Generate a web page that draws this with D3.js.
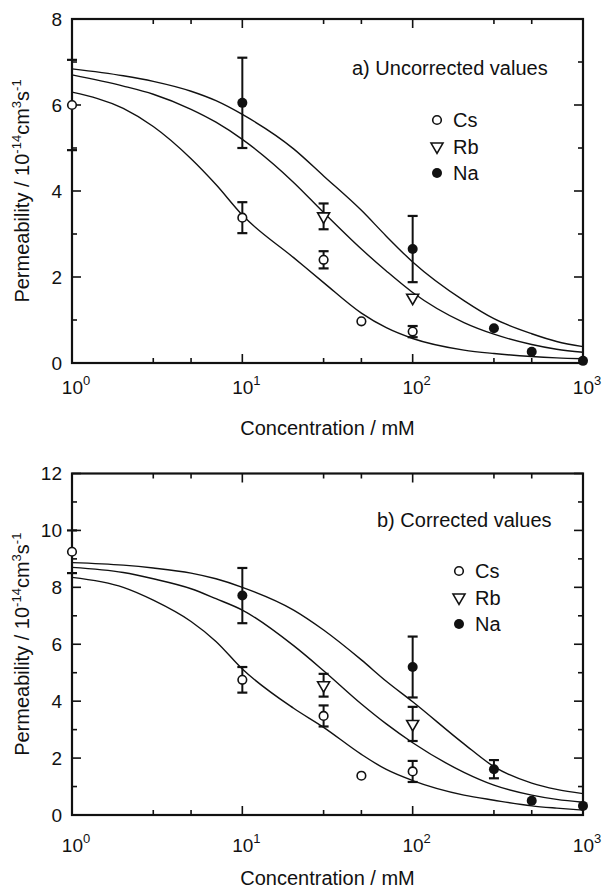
<!DOCTYPE html>
<html>
<head>
<meta charset="utf-8">
<script src="https://cdnjs.cloudflare.com/ajax/libs/d3/7.8.5/d3.min.js"></script>
<style>
  body { margin: 0; background: #fff; }
  text { font-family: 'Liberation Sans', Arial, Helvetica, sans-serif; fill: #111; }
</style>
</head>
<body>
<div id="chart"></div>
<script>
let curveConc = [1, 2, 3, 5, 7, 10, 20, 30, 50, 70, 100, 200, 300, 500, 700, 1000]

// a) uncorrected
let uncCurveCs = [6.3, 5.92, 5.5, 4.75, 4.15, 3.44, 2.45, 1.87, 1.16, 0.82, 0.57, 0.3, 0.22, 0.15, 0.12, 0.1]
let uncCurveRb = [6.7, 6.44, 6.25, 5.9, 5.6, 5.2, 4.2, 3.5, 2.65, 2.14, 1.64, 0.94, 0.67, 0.43, 0.32, 0.25]
let uncCurveNa = [6.84, 6.68, 6.55, 6.32, 6.1, 5.78, 4.98, 4.35, 3.55, 2.95, 2.35, 1.45, 1.03, 0.68, 0.5, 0.38]

let uncCsConc = [1, 10, 30, 50, 100]
let uncCsVal = [6.0, 3.38, 2.4, 0.97, 0.73]
let uncCsErr = [1.05, 0.36, 0.2, 0, 0.13]
let uncRbConc = [30, 100]
let uncRbVal = [3.41, 1.52]
let uncRbErr = [0.3, 0]
let uncNaConc = [10, 100, 300, 500, 1000]
let uncNaVal = [6.05, 2.65, 0.81, 0.26, 0.05]
let uncNaErr = [1.05, 0.77, 0, 0, 0]

// b) corrected
let corCurveCs = [8.35, 8.0, 7.55, 6.8, 6.1, 5.13, 3.75, 3.08, 2.13, 1.6, 1.21, 0.7, 0.52, 0.32, 0.24, 0.17]
let corCurveRb = [8.7, 8.52, 8.3, 7.95, 7.6, 7.2, 5.95, 5.07, 3.9, 3.2, 2.54, 1.5, 1.05, 0.7, 0.55, 0.45]
let corCurveNa = [8.87, 8.78, 8.68, 8.5, 8.3, 8.0, 7.2, 6.5, 5.45, 4.7, 3.98, 2.5, 1.7, 1.12, 0.9, 0.75]

let corCsConc = [1, 10, 30, 50, 100]
let corCsVal = [9.25, 4.75, 3.48, 1.38, 1.53]
let corCsErr = [0.75, 0.45, 0.37, 0, 0.37]
let corRbConc = [30, 100]
let corRbVal = [4.56, 3.2]
let corRbErr = [0.4, 0.6]
let corNaConc = [10, 100, 300, 500, 1000]
let corNaVal = [7.71, 5.2, 1.61, 0.5, 0.32]
let corNaErr = [0.97, 1.07, 0.32, 0, 0]

let ions = ['Cs', 'Rb', 'Na']
let xMajor = [1, 10, 100, 1000]
let xMinor = [3, 5, 30, 50, 300, 500]

let width = 606
let height = 891

let svg = d3.select('#chart')
  .append('svg')
  .attr('width', width)
  .attr('height', height)
  .style('background', '#fff')

let xPositionScale = d3.scaleLog().domain([1, 1000]).range([72, 583])

function marker(sel, kind) {
  if (kind === 'Cs') {
    sel.append('circle').attr('r', 4.3).attr('fill', '#fff').attr('stroke', '#111').attr('stroke-width', 1.6)
  } else if (kind === 'Rb') {
    sel.append('path')
      .attr('d', d3.symbol(d3.symbolTriangle, 62)())
      .attr('transform', 'rotate(180)')
      .attr('fill', '#fff').attr('stroke', '#111').attr('stroke-width', 1.6)
  } else {
    sel.append('circle').attr('r', 5).attr('fill', '#111')
  }
}

function drawPanel(p) {
  let g = svg.append('g')
  let y = d3.scaleLinear().domain([0, p.yMax]).range([p.bottom, p.top])
  let x = xPositionScale

  // curves
  let line = d3.line()
    .x((d, i) => x(curveConc[i]))
    .y(d => y(d))
    .curve(d3.curveMonotoneX)
  p.curves.forEach(c => {
    g.append('path')
      .datum(c)
      .attr('d', line)
      .attr('fill', 'none')
      .attr('stroke', '#111')
      .attr('stroke-width', 1.4)
  })

  // frame and ticks
  g.append('rect')
    .attr('x', x(1)).attr('y', p.top)
    .attr('width', x(1000) - x(1)).attr('height', p.bottom - p.top)
    .attr('fill', 'none').attr('stroke', '#111').attr('stroke-width', 2.2)

  let xTicks = xMajor.map(v => [v, 9]).concat(xMinor.map(v => [v, 5]))
  xTicks.forEach(([v, len]) => {
    g.append('line').attr('x1', x(v)).attr('x2', x(v)).attr('y1', p.bottom).attr('y2', p.bottom - len)
      .attr('stroke', '#111').attr('stroke-width', 1.6)
    g.append('line').attr('x1', x(v)).attr('x2', x(v)).attr('y1', p.top).attr('y2', p.top + len)
      .attr('stroke', '#111').attr('stroke-width', 1.6)
  })

  d3.range(0, p.yMax + 1).forEach(v => {
    let len = v % 2 === 0 ? 9 : 5
    g.append('line').attr('x1', x(1)).attr('x2', x(1) + len).attr('y1', y(v)).attr('y2', y(v))
      .attr('stroke', '#111').attr('stroke-width', 1.6)
    g.append('line').attr('x1', x(1000)).attr('x2', x(1000) - len).attr('y1', y(v)).attr('y2', y(v))
      .attr('stroke', '#111').attr('stroke-width', 1.6)
  })

  // tick labels
  y.ticks(p.yMax / 2).forEach(v => {
    g.append('text')
      .attr('x', x(1) - 10).attr('y', y(v))
      .attr('text-anchor', 'end').attr('dominant-baseline', 'central')
      .attr('font-size', 19)
      .text(v)
  })
  xMajor.forEach(v => {
    let t = g.append('text')
      .attr('x', x(v) + 4).attr('y', p.bottom + p.xLabelDy)
      .attr('text-anchor', 'middle')
      .attr('font-size', 19)
    t.append('tspan').text('10')
    t.append('tspan').attr('dy', -9).attr('font-size', 13).text(Math.round(Math.log10(v)))
  })

  // axis titles
  g.append('text')
    .attr('x', (x(1) + x(1000)) / 2).attr('y', p.bottom + p.xTitleDy)
    .attr('text-anchor', 'middle')
    .attr('font-size', 20)
    .text('Concentration / mM')

  let yt = g.append('text')
    .attr('transform', 'translate(29,' + ((p.top + p.bottom) / 2) + ') rotate(-90)')
    .attr('text-anchor', 'middle')
    .attr('font-size', 20)
  yt.append('tspan').text('Permeability / 10')
  yt.append('tspan').attr('dy', -8).attr('font-size', 13).text('-14')
  yt.append('tspan').attr('dy', 8).text('cm')
  yt.append('tspan').attr('dy', -8).attr('font-size', 13).text('3')
  yt.append('tspan').attr('dy', 8).text('s')
  yt.append('tspan').attr('dy', -8).attr('font-size', 13).text('-1')

  // panel label
  g.append('text')
    .attr('x', p.labelX).attr('y', p.labelY)
    .attr('font-size', 20)
    .text(p.label)

  // error bars
  p.series.forEach(s => {
    s.conc.forEach((c, i) => {
      let e = s.err[i]
      if (!e) return
      let cx = x(c)
      g.append('line').attr('x1', cx).attr('x2', cx).attr('y1', y(s.val[i] - e)).attr('y2', y(s.val[i] + e))
        .attr('stroke', '#111').attr('stroke-width', 2)
      ;[s.val[i] - e, s.val[i] + e].forEach(v => {
        g.append('line').attr('x1', cx - 5).attr('x2', cx + 5).attr('y1', y(v)).attr('y2', y(v))
          .attr('stroke', '#111').attr('stroke-width', 2.2)
      })
    })
  })

  // points
  p.series.forEach(s => {
    s.conc.forEach((c, i) => {
      let m = g.append('g').attr('transform', 'translate(' + x(c) + ',' + y(s.val[i]) + ')')
      marker(m, s.name)
    })
  })

  // legend
  ions.forEach((name, i) => {
    let m = g.append('g').attr('transform', 'translate(' + p.legendX + ',' + (p.legendY + i * 26.5) + ')')
    marker(m, name)
    g.append('text')
      .attr('x', p.legendX + 16).attr('y', p.legendY + i * 26.5)
      .attr('dominant-baseline', 'central')
      .attr('font-size', 20)
      .text(name)
  })
}

drawPanel({
  top: 19, bottom: 363, yMax: 8,
  xLabelDy: 31, xTitleDy: 72,
  label: 'a) Uncorrected values', labelX: 352, labelY: 75,
  legendX: 437, legendY: 120,
  curves: [uncCurveCs, uncCurveRb, uncCurveNa],
  series: [
    { name: 'Cs', conc: uncCsConc, val: uncCsVal, err: uncCsErr },
    { name: 'Rb', conc: uncRbConc, val: uncRbVal, err: uncRbErr },
    { name: 'Na', conc: uncNaConc, val: uncNaVal, err: uncNaErr }
  ]
})

drawPanel({
  top: 473.5, bottom: 815, yMax: 12,
  xLabelDy: 37, xTitleDy: 70,
  label: 'b) Corrected values', labelX: 377, labelY: 527,
  legendX: 459, legendY: 571,
  curves: [corCurveCs, corCurveRb, corCurveNa],
  series: [
    { name: 'Cs', conc: corCsConc, val: corCsVal, err: corCsErr },
    { name: 'Rb', conc: corRbConc, val: corRbVal, err: corRbErr },
    { name: 'Na', conc: corNaConc, val: corNaVal, err: corNaErr }
  ]
})
</script>
</body>
</html>
